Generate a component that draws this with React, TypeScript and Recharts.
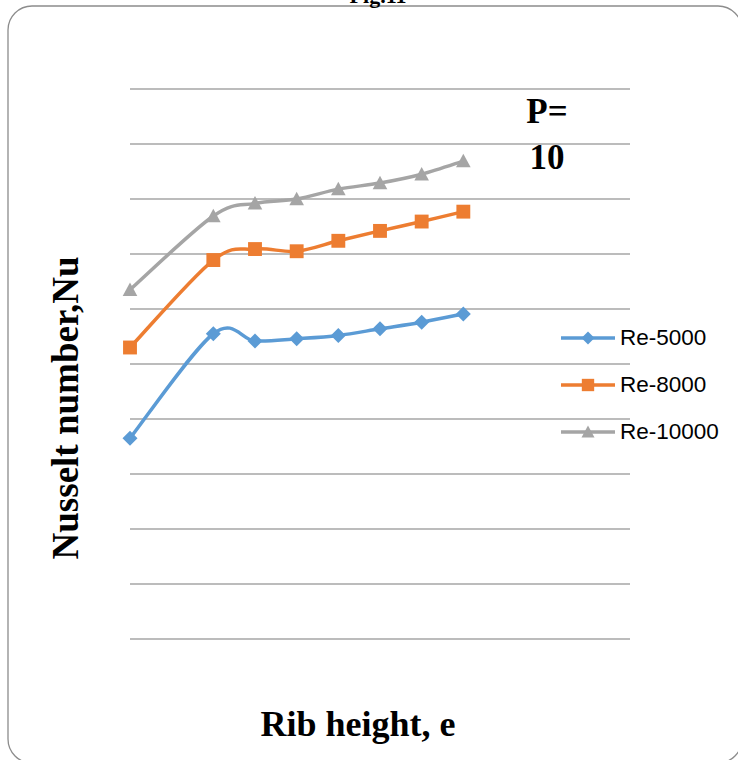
import React from 'react';
import { LineChart, Line, XAxis, YAxis, CartesianGrid, Legend } from 'recharts';

const ribHeight = [0, 2, 3, 4, 5, 6, 7, 8];
const re5000 = [36.5, 55.5, 54.2, 54.6, 55.2, 56.4, 57.6, 59.1];
const re8000 = [53.0, 68.9, 70.9, 70.5, 72.4, 74.2, 75.9, 77.7];
const re10000 = [63.5, 76.9, 79.2, 80.0, 81.8, 82.9, 84.5, 86.9];
const yTicks = [0, 10, 20, 30, 40, 50, 60, 70, 80, 90, 100];
const seriesNames = ['Re-5000', 'Re-8000', 'Re-10000'];
const seriesColors = ['#5b9bd5', '#ed7d31', '#a5a5a5'];

const data = ribHeight.map((x, i) => ({
  x,
  s5000: re5000[i],
  s8000: re8000[i],
  s10000: re10000[i],
}));

// Excel-like smoothing (Catmull-Rom) curve factory
function smoothCurve(context: any) {
  let pts: number[][] = [];
  return {
    areaStart() {},
    areaEnd() {},
    lineStart() {
      pts = [];
    },
    lineEnd() {
      const n = pts.length;
      if (n === 0) return;
      context.moveTo(pts[0][0], pts[0][1]);
      for (let i = 0; i < n - 1; i++) {
        const p0 = pts[i - 1] || pts[i];
        const p1 = pts[i];
        const p2 = pts[i + 1];
        const p3 = pts[i + 2] || pts[i + 1];
        context.bezierCurveTo(
          p1[0] + (p2[0] - p0[0]) / 6,
          p1[1] + (p2[1] - p0[1]) / 6,
          p2[0] - (p3[0] - p1[0]) / 6,
          p2[1] - (p3[1] - p1[1]) / 6,
          p2[0],
          p2[1]
        );
      }
    },
    point(x: number, y: number) {
      pts.push([+x, +y]);
    },
  };
}

const Diamond = ({ cx, cy, r, fill }: any) => (
  <path d={`M${cx},${cy - r}L${cx + r},${cy}L${cx},${cy + r}L${cx - r},${cy}Z`} fill={fill} />
);
const Square = ({ cx, cy, r, fill }: any) => (
  <rect x={cx - r} y={cy - r} width={2 * r} height={2 * r} fill={fill} />
);
const Triangle = ({ cx, cy, r, fill }: any) => (
  <path d={`M${cx},${cy - r}L${cx + r},${cy + r * 0.85}L${cx - r},${cy + r * 0.85}Z`} fill={fill} />
);

const markerFor = (i: number, cx: number, cy: number, r: number, key?: any) => {
  const fill = seriesColors[i];
  if (cx == null || cy == null) return <g key={key} />;
  if (i === 0) return <Diamond key={key} cx={cx} cy={cy} r={r} fill={fill} />;
  if (i === 1) return <Square key={key} cx={cx} cy={cy} r={r * 0.95} fill={fill} />;
  return <Triangle key={key} cx={cx} cy={cy} r={r} fill={fill} />;
};

const LegendContent = ({ payload }: any) => {
  const items = [...(payload || [])].sort(
    (a: any, b: any) => seriesNames.indexOf(a.value) - seriesNames.indexOf(b.value)
  );
  return (
    <div>
      {items.map((p: any, idx: number) => {
        const i = seriesNames.indexOf(p.value);
        return (
          <div key={idx} style={{ display: 'flex', alignItems: 'center', height: 47 }}>
            <svg width={58} height={20} style={{ display: 'block' }}>
              <line x1={2} y1={10} x2={56} y2={10} stroke={seriesColors[i]} strokeWidth={3.5} />
              {markerFor(i, 29, 10, 6.5)}
            </svg>
            <span
              style={{
                fontFamily: '"Liberation Sans", Arial, sans-serif',
                fontSize: 22.5,
                color: '#000',
                marginLeft: 3,
                lineHeight: '20px',
              }}
            >
              {p.value}
            </span>
          </div>
        );
      })}
    </div>
  );
};

const serif = '"Liberation Serif", "Times New Roman", serif';

export default function App() {
  return (
    <div style={{ position: 'absolute', left: 0, top: 0, width: 738, height: 760, overflow: 'hidden', background: '#fff' }}>
      <svg width={738} height={760} style={{ position: 'absolute', left: 0, top: 0 }}>
        <rect x={8} y={6} width={734} height={757} rx={24} ry={24} fill="none" stroke="#8c8c8c" strokeWidth={1.3} />
        <text x={378} y={3} textAnchor="middle" fontFamily={serif} fontWeight="bold" fontSize={22} fill="#000">
          Fig.11
        </text>
        <text
          x={0}
          y={0}
          transform="translate(78,408) rotate(-90)"
          textAnchor="middle"
          fontFamily={serif}
          fontWeight="bold"
          fontSize={37}
          fill="#000"
        >
          Nusselt number,Nu
        </text>
        <text x={358} y={736} textAnchor="middle" fontFamily={serif} fontWeight="bold" fontSize={36} fill="#000">
          Rib height, e
        </text>
        <text x={547} y={123} textAnchor="middle" fontFamily={serif} fontWeight="bold" fontSize={35} fill="#000">
          P=
        </text>
        <text x={547} y={169} textAnchor="middle" fontFamily={serif} fontWeight="bold" fontSize={35} fill="#000">
          10
        </text>
      </svg>
      <div style={{ position: 'absolute', left: 0, top: 0 }}>
        <LineChart width={738} height={760} data={data} margin={{ top: 89, right: 108, bottom: 121, left: 130 }}>
          <CartesianGrid vertical={false} stroke="#a6a6a6" strokeWidth={1.3} />
          <XAxis type="number" dataKey="x" domain={[0, 12]} hide />
          <YAxis type="number" domain={[0, 100]} ticks={yTicks} hide />
          <Legend
            layout="vertical"
            align="center"
            verticalAlign="middle"
            content={(props: any) => <LegendContent payload={props.payload} />}
            wrapperStyle={{ position: 'absolute', left: 559, top: 314, width: 180 }}
          />
          <Line
            name={seriesNames[0]}
            dataKey="s5000"
            type={smoothCurve as any}
            stroke={seriesColors[0]}
            strokeWidth={3.5}
            isAnimationActive={false}
            dot={(p: any) => markerFor(0, p.cx, p.cy, 7.5, p.index)}
            activeDot={false}
          />
          <Line
            name={seriesNames[1]}
            dataKey="s8000"
            type={smoothCurve as any}
            stroke={seriesColors[1]}
            strokeWidth={3.5}
            isAnimationActive={false}
            dot={(p: any) => markerFor(1, p.cx, p.cy, 7.3, p.index)}
            activeDot={false}
          />
          <Line
            name={seriesNames[2]}
            dataKey="s10000"
            type={smoothCurve as any}
            stroke={seriesColors[2]}
            strokeWidth={3.5}
            isAnimationActive={false}
            dot={(p: any) => markerFor(2, p.cx, p.cy, 7.3, p.index)}
            activeDot={false}
          />
        </LineChart>
      </div>
    </div>
  );
}
